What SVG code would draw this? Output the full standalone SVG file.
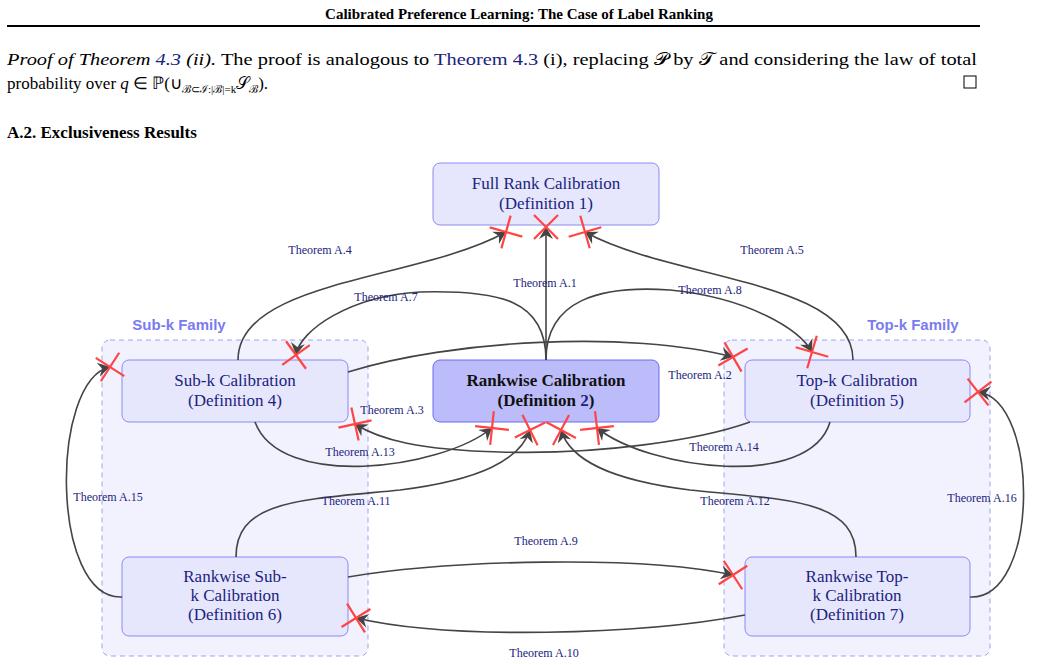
<svg xmlns="http://www.w3.org/2000/svg" width="1038" height="665" viewBox="0 0 1038 665">
<style>
.t{font-family:"Liberation Serif",serif;}
.lbl{font-family:"Liberation Serif",serif;font-size:12px;fill:#1a237e;text-anchor:middle}
.node{fill:#e6e6fc;stroke:#8a8af2;stroke-width:1}
.nt{font-family:"Liberation Serif",serif;font-size:17px;fill:#1a237e;text-anchor:middle}
.bt{font-family:"Liberation Serif",serif;font-size:17px;fill:#111;font-weight:bold;text-anchor:middle}
.fam{fill:#f2f2fe;stroke:#a0a0f0;stroke-dasharray:5,4}
.ft{font-family:"Liberation Sans",sans-serif;font-size:15px;font-weight:bold;fill:#7b7bf0;text-anchor:middle}
.e{fill:none;stroke:#444;stroke-width:1.6}
</style>
<defs>
<marker id="x" markerUnits="userSpaceOnUse" markerWidth="40" markerHeight="40" refX="20" refY="20" orient="auto" viewBox="0 0 40 40">
<path d="M20,20 L8,13 L12,20 L8,27 Z" fill="#444"/>
<path d="M8,8 L32,32 M8,32 L32,8" stroke="#ff4444" stroke-width="2.2"/>
</marker>
</defs>
<rect width="1038" height="665" fill="#fff"/>
<text class="t" x="519" y="19" font-size="15" font-weight="bold" text-anchor="middle">Calibrated Preference Learning: The Case of Label Ranking</text>
<line x1="7" y1="26" x2="980" y2="26" stroke="#000" stroke-width="2"/>
<text class="t" x="7" y="65" font-size="17" textLength="970" lengthAdjust="spacingAndGlyphs"><tspan font-style="italic">Proof of Theorem <tspan fill="#1a237e">4.3</tspan> (ii).</tspan> The proof is analogous to <tspan fill="#1a237e">Theorem 4.3</tspan> (i), replacing 𝒫 by 𝒯 and considering the law of total</text>
<text class="t" x="7" y="89" font-size="17">probability over <tspan font-style="italic">q</tspan> ∈ ℙ(∪<tspan font-size="11" dy="4">ℬ⊂ℐ:|ℬ|=k</tspan><tspan dy="-4">𝒮</tspan><tspan font-size="11" dy="4">ℬ</tspan><tspan dy="-4">).</tspan></text>
<rect x="964" y="76" width="12" height="12" fill="none" stroke="#000"/>
<text class="t" x="7" y="138" font-size="17" font-weight="bold">A.2. Exclusiveness Results</text>

<rect class="fam" x="102" y="340" width="266" height="316" rx="8"/>
<rect class="fam" x="724" y="340" width="266" height="316" rx="8"/>
<text class="ft" x="179" y="330">Sub-k Family</text>
<text class="ft" x="913" y="330">Top-k Family</text>

<g id="full"><rect class="node" x="433" y="163" width="226" height="62" rx="7"/><text class="nt" x="546" y="189">Full Rank Calibration</text><text class="nt" x="546" y="209">(Definition 1)</text></g>
<g id="rankwise"><rect x="433" y="360" width="226" height="62" rx="7" fill="#bcbcfb" stroke="#6a6af0"/><text class="bt" x="546" y="386">Rankwise Calibration</text><text class="bt" x="546" y="406">(Definition <tspan fill="#1a237e">2</tspan>)</text></g>
<g id="subk"><rect class="node" x="122" y="360" width="226" height="62" rx="7"/><text class="nt" x="235" y="386">Sub-k Calibration</text><text class="nt" x="235" y="406">(Definition 4)</text></g>
<g id="topk"><rect class="node" x="745" y="360" width="225" height="62" rx="7"/><text class="nt" x="857" y="386">Top-k Calibration</text><text class="nt" x="857" y="406">(Definition 5)</text></g>
<g id="rsubk"><rect class="node" x="122" y="557" width="226" height="79" rx="7" fill="#f4f4fe"/><text class="nt" x="235" y="582">Rankwise Sub-</text><text class="nt" x="235" y="601">k Calibration</text><text class="nt" x="235" y="620">(Definition 6)</text></g>
<g id="rtopk"><rect class="node" x="745" y="557" width="225" height="79" rx="7" fill="#f4f4fe"/><text class="nt" x="857" y="582">Rankwise Top-</text><text class="nt" x="857" y="601">k Calibration</text><text class="nt" x="857" y="620">(Definition 7)</text></g>

<g id="edges">
<path class="e" d="M546,360 L546,227" marker-end="url(#x)"/>
<path class="e" d="M238,360 C238,280 420,280 506,232" marker-end="url(#x)"/>
<path class="e" d="M853,360 C853,280 672,280 585,232" marker-end="url(#x)"/>
<path class="e" d="M546,360 C546,300 500,290 420,292 C350,296 300,330 296,355" marker-end="url(#x)"/>
<path class="e" d="M546,360 C546,300 600,285 670,290 C750,298 800,330 812,352" marker-end="url(#x)"/>
<path class="e" d="M348,372 C450,340 630,330 733,357" marker-end="url(#x)"/>
<path class="e" d="M750,422 C700,440 600,455 500,452 C420,450 380,440 355,424" marker-end="url(#x)"/>
<path class="e" d="M255,422 C280,490 440,470 492,428" marker-end="url(#x)"/>
<path class="e" d="M830,422 C810,490 650,470 597,428" marker-end="url(#x)"/>
<path class="e" d="M236,557 C236,500 300,500 400,490 C480,480 520,460 530,430" marker-end="url(#x)"/>
<path class="e" d="M856,557 C856,500 790,500 690,490 C610,480 570,460 561,430" marker-end="url(#x)"/>
<path class="e" d="M348,577 C450,560 640,555 733,575" marker-end="url(#x)"/>
<path class="e" d="M745,615 C640,635 450,640 356,618" marker-end="url(#x)"/>
<path class="e" d="M122,597 C50,600 50,380 110,367" marker-end="url(#x)"/>
<path class="e" d="M970,597 C1040,600 1040,400 978,392" marker-end="url(#x)"/>
<text class="lbl" x="545" y="287">Theorem A.1</text>
<text class="lbl" x="320" y="254">Theorem A.4</text>
<text class="lbl" x="772" y="254">Theorem A.5</text>
<text class="lbl" x="386" y="301">Theorem A.7</text>
<text class="lbl" x="710" y="294">Theorem A.8</text>
<text class="lbl" x="700" y="379">Theorem A.2</text>
<text class="lbl" x="392" y="414">Theorem A.3</text>
<text class="lbl" x="360" y="456">Theorem A.13</text>
<text class="lbl" x="724" y="451">Theorem A.14</text>
<text class="lbl" x="356" y="505">Theorem A.11</text>
<text class="lbl" x="735" y="505">Theorem A.12</text>
<text class="lbl" x="546" y="545">Theorem A.9</text>
<text class="lbl" x="544" y="657">Theorem A.10</text>
<text class="lbl" x="108" y="501">Theorem A.15</text>
<text class="lbl" x="982" y="502">Theorem A.16</text>
</g>
</svg>
